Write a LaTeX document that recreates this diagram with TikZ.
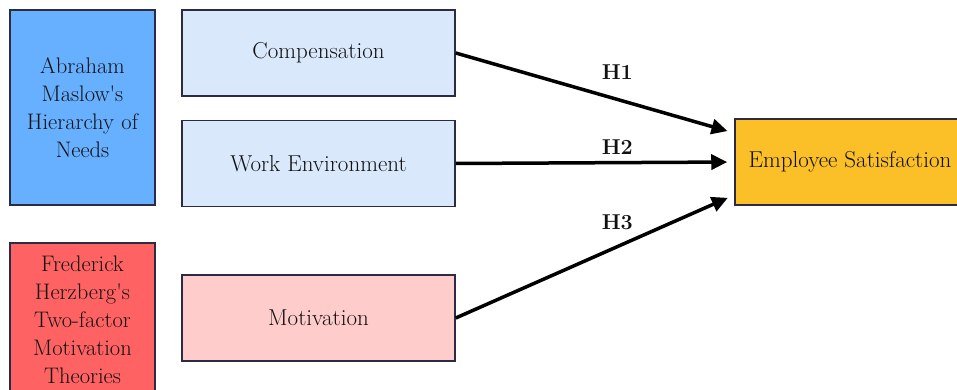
\documentclass[tikz,border=0pt]{standalone}
\usepackage{fontspec}
\usetikzlibrary{arrows.meta,positioning}

\definecolor{framecol}{HTML}{2B2B45}
\definecolor{textcol}{HTML}{111111}
\definecolor{maslowblue}{HTML}{66B0FF}
\definecolor{factorblue}{HTML}{DAE8FC}
\definecolor{herzred}{HTML}{FF6262}
\definecolor{factorred}{HTML}{FFCCCC}
\definecolor{empgold}{HTML}{FBBF27}

\begin{document}
\begin{tikzpicture}[x=1pt,y=-1pt,
theory/.style = {rectangle, draw=framecol, line width=1.5pt, text width=140pt,
                 align=center, minimum width=145pt, inner sep=0pt, text=textcol,
                 font=\fontsize{22.5}{28}\selectfont},
factor/.style = {rectangle, draw=framecol, line width=1.5pt, minimum width=273pt,
                 minimum height=86pt, inner sep=0pt, text=textcol,
                 font=\fontsize{23}{27}\selectfont},
hyp/.style = {inner sep=1pt, text=textcol, font=\bfseries\fontsize{21.5}{24}\selectfont},
line/.style = {draw=black, line width=3.5pt, shorten >=7pt,
               -{Triangle[length=16pt,width=15pt]}}]

\useasboundingbox (0,0) rectangle (957,390);
\clip (0,0) rectangle (957,390);

% theories
\node [theory, fill=maslowblue, minimum height=195pt] (maslow) at (82.5,107.5)
  {Abraham\\ Maslow\textquotesingle s\\ Hierarchy of\\ Needs};
\node [theory, fill=herzred, minimum height=154pt] (herzberg) at (82.5,320)
  {Frederick\\ Herzberg\textquotesingle s\\ Two-factor\\ Motivation\\ Theories};

% factors
\node [factor, fill=factorblue] (comp) at (318.5,53) {Compensation};
\node [factor, fill=factorblue, below=23pt of comp] (work) {Work Environment};
\node [factor, fill=factorred] (motiv) at (318.5,318) {Motivation};
\node [factor, fill=empgold, minimum width=230pt] (emp) at (850,162)
  {Employee Satisfaction};

% hypotheses
\path [line] (comp.east) -- node [hyp, pos=0.58, above=17pt] {H1} ([yshift=29pt]emp.west);
\path [line] (work.east) -- node [hyp, pos=0.58, above=5pt] {H2} (emp.west);
\path [line] (motiv.east) -- node [hyp, pos=0.58, above=14pt] {H3} ([yshift=-33pt]emp.west);
\end{tikzpicture}
\end{document}
